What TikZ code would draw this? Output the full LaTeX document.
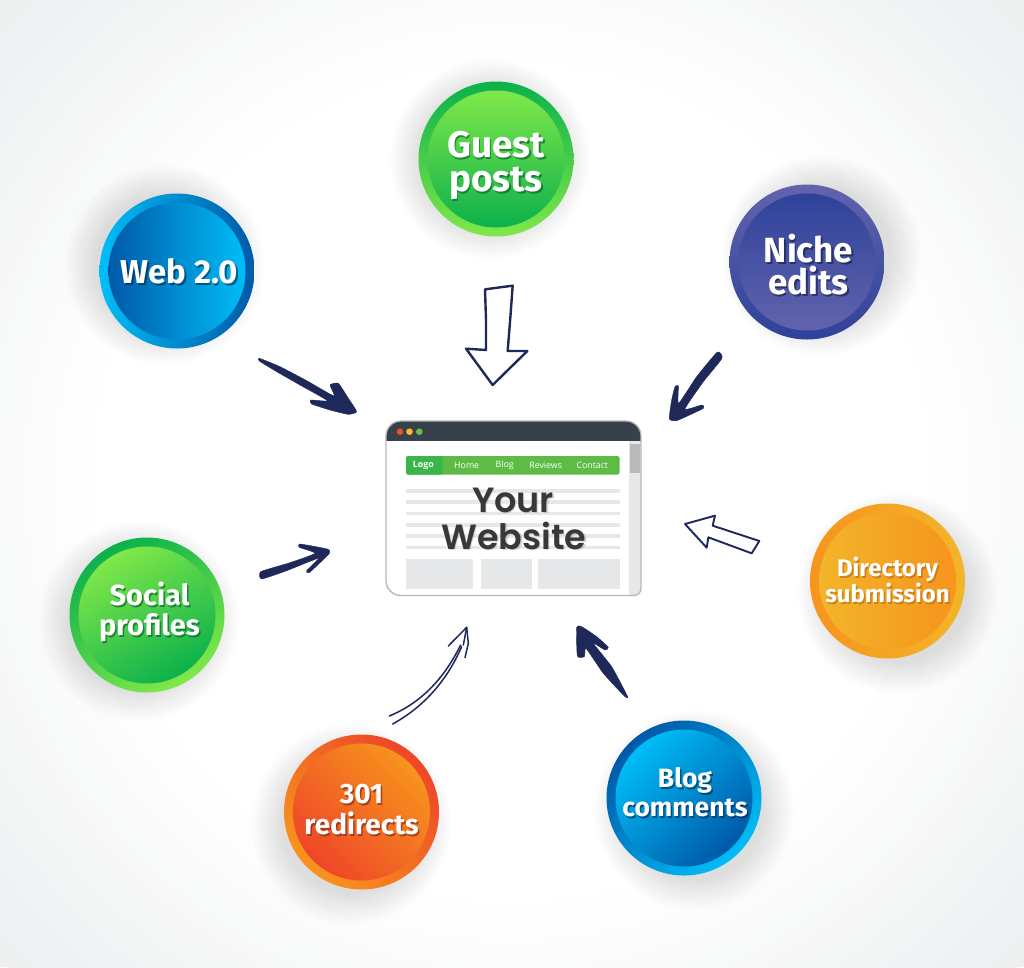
\documentclass[tikz,border=0pt]{standalone}
\usepackage{fontspec}
\setmainfont{Fira Sans}
\newfontfamily\popfont{Poppins SemiBold}
\newfontfamily\navfont{Open Sans}
\definecolor{ink}{HTML}{1E2859}
\definecolor{barcol}{HTML}{E6E7E8}
\definecolor{headcol}{HTML}{37414B}
\definecolor{navcol}{HTML}{5DBB46}
\definecolor{logocol}{HTML}{39B54A}
\definecolor{edgecol}{HTML}{B7B7B7}
\definecolor{dotA}{HTML}{F04E23}\definecolor{dotB}{HTML}{FDB92F}\definecolor{dotC}{HTML}{6ABD45}
\definecolor{gA}{HTML}{0CB14B}\definecolor{gB}{HTML}{80E84A}
\definecolor{bA}{HTML}{0059A8}\definecolor{bB}{HTML}{00BDF7}
\definecolor{nA}{HTML}{2E429A}\definecolor{nB}{HTML}{6263AD}
\definecolor{oA}{HTML}{F7941D}\definecolor{oB}{HTML}{F2B52A}
\definecolor{rA}{HTML}{EE4628}\definecolor{rB}{HTML}{F7941D}
\definecolor{bgout}{HTML}{ECEEEF}
\tikzset{
 x=1pt,y=-1pt,
 navtext/.style={font=\navfont\fontsize{8.8}{10}\selectfont,text=white,inner sep=0pt},
 bubtext/.style 2 args={font=\bfseries\fontsize{#1}{#2}\selectfont,text=white,inner sep=0pt,align=center},
 webtext/.style={font=\popfont\fontsize{35}{35}\selectfont,text=black!78,inner sep=0pt},
 pagebar/.style={fill=barcol},
 solidarrow/.style={fill=ink,draw=ink,line width=.4pt,line join=round},
 openarrow/.style={fill=white,draw=ink,line join=round},
 thinarrow/.style={draw=ink,line width=1.5pt,line cap=round,line join=round},
 zoomed/.style={shift={#1},x=.33333pt,y=-.33333pt}
}
% \bubble{name}{x}{y}{shadow dx}{shadow dy}{ring A}{ring B}{angle}
\newcommand{\bubble}[8]{%
 \foreach \r in {70,72,...,100}{\fill[black,opacity=.009] (#2+#4,#3+#5) circle[radius=\r];}
 \shade[top color=#6,bottom color=#7,shading angle=#8] (#2,#3) circle[radius=77.5];
 \shade[top color=#7,bottom color=#6,shading angle=#8] (#2,#3) circle[radius=68.5];
 \coordinate (#1) at (#2,#3);
}
% \bubtxt{centre}{name}{text}{size}{pitch}{shadow colour}{dx}{dy}
\newcommand{\bubtxt}[8]{%
 \node[bubtext={#4}{#5},text=#6,opacity=.6] at ([shift={(#7+1.5,#8+2)}]#1) {#3};
 \node[bubtext={#4}{#5}] (#2) at ([shift={(#7,#8)}]#1) {#3};
}
\newcommand{\winpath}{(386,500) [rounded corners=15pt] -- (386,421) -- (641,421) [rounded corners=7pt] -- (641,595.5) [rounded corners=15pt] -- (386,595.5) -- cycle}
\begin{document}
\begin{tikzpicture}
\useasboundingbox (0,0) rectangle (1024,967);
\begin{scope}
\clip (0,0) rectangle (1024,967);
\fill[bgout] (0,0) rectangle (1024,967);
\foreach \r in {700,690,...,420}{
 \pgfmathsetmacro{\mixval}{min(100,(\r-420)/2.9)}
 \fill[bgout!\mixval!white] (512,483) circle[radius=\r];
}
\end{scope}

\bubble{guest}{496}{159}{-6}{0}{gA}{gB}{0}
\bubble{web}{177}{271}{-12}{-6}{bB}{bA}{90}
\bubble{niche}{807}{262}{14}{-6}{nB}{nA}{0}
\bubble{direc}{887.5}{581}{10}{12}{oB}{oA}{270}
\bubble{social}{147}{615}{-8}{6}{gA}{gB}{30}
\bubble{redir}{361.5}{812}{-10}{12}{rA}{rB}{-45}
\bubble{blogc}{684}{798}{10}{12}{bA}{bB}{45}

\bubtxt{guest}{tguest}{Guest\\posts}{37}{34}{black!50!gA}{0}{6}
\bubtxt{web}{tweb}{Web 2.0}{33}{33}{black!60!bA}{2.5}{0}
\bubtxt{niche}{tniche}{Niche\\edits}{35}{32}{black!60!nA}{1.5}{3}
\bubtxt{direc}{tdirec}{Directory\\submission}{24}{24}{black!30!oA}{0}{-1}
\bubtxt{social}{tsocial}{Social\\profiles}{29}{30}{black!50!gA}{2.5}{-3}
\bubtxt{redir}{tredir}{301\\redirects}{28}{31}{black!50!rA}{0}{-2}
\bubtxt{blogc}{tblogc}{Blog\\comments}{26.5}{29}{black!60!bA}{1}{-6}

% browser window
\fill[white] \winpath;
\begin{scope}
\clip \winpath;
\fill[barcol] (629,441) rectangle (641,596);
\fill[black!27] (630,444) rectangle (640,472.7);
\fill[headcol] (386,421) rectangle (641,441);
\end{scope}
\draw[edgecol,line width=1.3pt,line join=round] \winpath;
\fill[dotA] (400,431.7) circle[radius=3.3];
\fill[dotB] (409.5,431.7) circle[radius=3.3];
\fill[dotC] (419.3,431.7) circle[radius=3.3];

\fill[navcol,rounded corners=2.5pt] (406,456) rectangle (619.7,474.7);
\fill[logocol,rounded corners=2.5pt] (406,456) rectangle (442.7,474.7);
\node[navtext,font=\navfont\bfseries\fontsize{8.8}{10}\selectfont] (navlogo) at (423.3,465) {Logo};
\node[navtext] (navhome) at (466.7,465) {Home};
\node[navtext] (navblog) at (504.7,465) {Blog};
\node[navtext] (navrev) at (545.7,465) {Reviews};
\node[navtext] (navcon) at (592.3,465) {Contact};

\foreach \y in {490.7,502,513.3,524.7,536,547.3}{\fill[pagebar] (406,\y-1.8) rectangle (619.7,\y+1.8);}
\fill[pagebar] (406,559.3) rectangle (473.3,588.7);
\fill[pagebar] (481,559.3) rectangle (532,588.7);
\fill[pagebar] (538.3,559.3) rectangle (619.7,588.7);

\node[webtext,opacity=.2] at (514.2,501.2) {Your};
\node[webtext,opacity=.2] at (515.2,536.7) {Website};
\node[webtext] (tyour) at (513,500) {Your};
\node[webtext] (twebsite) at (514,535.5) {Website};

% hand-drawn arrows, outlines in 3x crop coordinates
\begin{scope}[zoomed={(240,270)}]
 \draw[solidarrow] plot[smooth cycle,tension=.3] coordinates {(58,265)(120,290)(200,332)(282,378)(270,345)(295,340)(325,385)(350,425)(325,433)(270,420)(215,402)(212,390)(262,392)(180,345)(110,305)(58,273)};
 \draw[openarrow,line width=2.4pt] (735,58) -- (818,47) -- (812,130) -- (803,243) -- (862,243) -- (758,345) -- (678,236) -- (738,240) -- (738,150) -- cycle;
\end{scope}
\begin{scope}[zoomed={(640,340)}]
 \draw[solidarrow] plot[smooth cycle,tension=.3] coordinates {(232,36)(246,55)(190,125)(135,207)(185,195)(190,205)(110,242)(88,236)(95,180)(105,140)(115,138)(116,190)(170,110)};
 \draw[openarrow,line width=1.9pt] (135,552) -- (225,527) -- (218,557) -- (358,603) -- (335,640) -- (205,592) -- (200,623) -- cycle;
\end{scope}
\begin{scope}[zoomed={(250,530)}]
 \draw[solidarrow] plot[smooth cycle,tension=.3] coordinates {(32,125)(120,98)(195,70)(148,52)(150,42)(232,57)(238,70)(178,128)(170,122)(205,85)(110,122)(35,147)};
 \draw[solidarrow] plot[smooth cycle,tension=.3] coordinates {(1133,500)(1122,497)(1060,430)(1008,355)(1003,380)(982,378)(980,292)(995,290)(1040,320)(1075,352)(1065,360)(1030,340)(1085,410)};
 \draw[thinarrow] (418,558) .. controls (510,520) and (580,450) .. (632,345);
 \draw[thinarrow] (428,582) .. controls (540,520) and (600,430) .. (635,350);
 \draw[thinarrow] (595,348) -- (650,292) -- (655,340) -- (645,383);
 \draw[thinarrow] (640,345) -- (650,292);
\end{scope}
\end{tikzpicture}
\end{document}
